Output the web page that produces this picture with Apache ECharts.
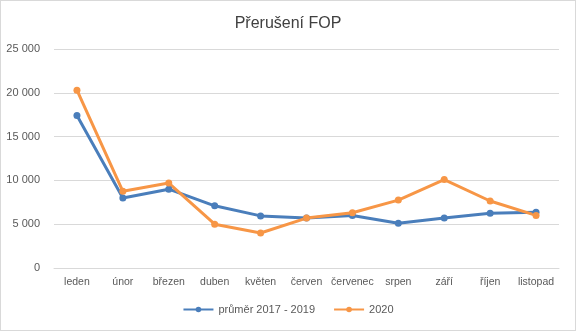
<!DOCTYPE html>
<html><head><meta charset="utf-8">
<script src="https://cdn.jsdelivr.net/npm/echarts@6/dist/echarts.min.js"></script>
<style>html,body{margin:0;padding:0;background:#fff}#c{width:576px;height:331px;box-sizing:border-box;border:1px solid #d9d9d9}</style>
</head><body><div id="c"></div>
<script>
const categories = ['leden','únor','březen','duben','květen','červen','červenec','srpen','září','říjen','listopad'];
const avg2017_2019 = [17400, 8000, 9000, 7100, 5950, 5700, 6000, 5100, 5700, 6250, 6350];
const y2020 = [20300, 8750, 9700, 5000, 4000, 5700, 6300, 7750, 10100, 7650, 6000];
const seriesNames = ['průměr 2017 - 2019', '2020'];
const yTicks = [0, 5000, 10000, 15000, 20000, 25000];

const chart = echarts.init(document.getElementById('c'));
const fmt = v => v === 0 ? '0' : String(v).replace(/\B(?=(\d{3})+(?!\d))/g, ' ');
chart.setOption({
  animation: false,
  textStyle: {fontFamily: 'Liberation Sans, Arial, sans-serif'},
  title: {text: 'Přerušení FOP', left: 'center', top: 10,
    textStyle: {fontSize: 16, fontWeight: 'normal', color: '#404040', fontFamily: 'Liberation Sans, Arial, sans-serif'}},
  grid: {left: 53, right: 16, top: 48, bottom: 62},
  xAxis: {type: 'category', data: categories, boundaryGap: true,
    axisLine: {lineStyle: {color: '#d9d9d9'}}, axisTick: {show: false},
    axisLabel: {color: '#595959', fontSize: 10.5, margin: 9, interval: 0}},
  yAxis: {type: 'value', min: yTicks[0], max: yTicks[yTicks.length-1], interval: 5000,
    axisLine: {show: false}, axisTick: {show: false},
    splitLine: {lineStyle: {color: '#d9d9d9'}},
    axisLabel: {color: '#595959', fontSize: 11, margin: 14, formatter: fmt}},
  legend: {bottom: 10, left: 'center', itemWidth: 30, itemHeight: 7, itemGap: 18,
    textStyle: {color: '#595959', fontSize: 11}},
  series: [
    {name: seriesNames[0], type: 'line', data: avg2017_2019, symbol: 'circle', symbolSize: 7,
      lineStyle: {width: 3, color: '#4a7ebb'}, itemStyle: {color: '#4a7ebb'}},
    {name: seriesNames[1], type: 'line', data: y2020, symbol: 'circle', symbolSize: 7,
      lineStyle: {width: 3, color: '#f79646'}, itemStyle: {color: '#f79646'}}
  ]
});
</script></body></html>
